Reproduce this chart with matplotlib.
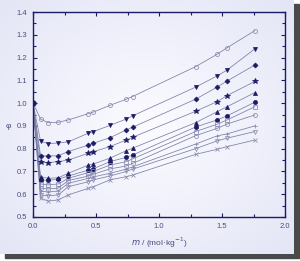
import numpy as np
import matplotlib
matplotlib.use("Agg")
import matplotlib.pyplot as plt
from matplotlib.patches import Rectangle

plt.rcParams['font.family'] = ['Liberation Sans', 'DejaVu Sans']

# molality (mol/kg) of the measured points, same for every series
m = [0.06, 0.12, 0.20, 0.28, 0.44, 0.48, 0.61, 0.74, 0.79, 1.29, 1.46, 1.54, 1.76]
m0, phi0 = 0.0, 1.0   # limiting value, all curves start here

phi_open_circle = [0.930, 0.914, 0.916, 0.926, 0.954, 0.961, 0.990, 1.017, 1.029, 1.160, 1.214, 1.243, 1.318]
phi_tri_down = [0.833, 0.822, 0.825, 0.830, 0.868, 0.875, 0.902, 0.930, 0.944, 1.070, 1.119, 1.145, 1.238]
phi_diamond = [0.769, 0.768, 0.769, 0.787, 0.816, 0.824, 0.848, 0.882, 0.894, 1.017, 1.070, 1.097, 1.167]
phi_star = [0.740, 0.739, 0.743, 0.750, 0.780, 0.787, 0.809, 0.838, 0.850, 0.964, 1.006, 1.033, 1.095]
phi_tri_up = [0.676, 0.670, 0.672, 0.692, 0.728, 0.733, 0.758, 0.791, 0.802, 0.914, 0.962, 0.984, 1.046]
phi_fill_circle = [0.663, 0.661, 0.666, 0.680, 0.706, 0.712, 0.743, 0.762, 0.772, 0.895, 0.926, 0.944, 1.004]
phi_square = [0.645, 0.641, 0.645, 0.670, 0.695, 0.700, 0.728, 0.743, 0.755, 0.875, 0.907, 0.926, 0.984]
phi_open_circle2 = [0.627, 0.623, 0.627, 0.660, 0.680, 0.688, 0.711, 0.724, 0.735, 0.857, 0.889, 0.908, 0.948]
phi_plus = [0.614, 0.610, 0.614, 0.648, 0.670, 0.676, 0.692, 0.710, 0.720, 0.820, 0.856, 0.865, 0.900]
phi_open_tri_down = [0.597, 0.593, 0.597, 0.633, 0.655, 0.663, 0.680, 0.700, 0.710, 0.800, 0.834, 0.846, 0.875]
phi_cross = [0.582, 0.570, 0.575, 0.597, 0.626, 0.633, 0.663, 0.677, 0.684, 0.775, 0.797, 0.809, 0.838]

navy = '#1c1c66'
grey = '#8a8cae'
line_c = '#7c7fa6'
text_c = '#4a4c80'

series = [
    (phi_open_circle, 'o', 'none', grey),
    (phi_tri_down, 'v', navy, navy),
    (phi_diamond, 'D', navy, navy),
    (phi_star, '*', navy, navy),
    (phi_tri_up, '^', navy, navy),
    (phi_fill_circle, 'o', navy, navy),
    (phi_square, 's', 'none', grey),
    (phi_open_circle2, 'o', 'none', grey),
    (phi_plus, '+', grey, grey),
    (phi_open_tri_down, 'v', 'none', grey),
    (phi_cross, 'x', grey, grey),
]

fig = plt.figure(figsize=(3.0, 2.61), dpi=100)
fig.patch.set_facecolor('white')

# card with drop shadow and soft lavender gradient
fig.add_artist(Rectangle((0.017, 0.0115), 0.98, 0.975, transform=fig.transFigure,
                         color='#4a4a4a', zorder=-3))
bg = fig.add_axes([0.0, 0.027, 0.98, 0.973], zorder=-2)
yy, xx = np.mgrid[-1:1:120j, -1:1:140j]
grad = np.clip(np.sqrt(xx**2 + yy**2) / 1.4, 0, 1)
bg.imshow(grad, cmap=matplotlib.colors.LinearSegmentedColormap.from_list(
    'card', ['#fbfbff', '#e4e6f6']), aspect='auto', extent=(0, 1, 0, 1))
bg.set_axis_off()

ax = fig.add_axes([0.11, 0.1686, 0.84, 0.7854])
ax.set_facecolor('none')

for phi, mk, fc, ec in series:
    ax.plot([m0] + m, [phi0] + phi, '-', color=line_c, lw=0.55, zorder=2)
    ms = 4.0 if mk == '*' else 2.9
    if mk == 'D':
        ms = 2.5
    ax.plot(m, phi, linestyle='none', marker=mk, ms=ms, mfc=fc, mec=ec, mew=0.55, zorder=3)
ax.plot([m0], [phi0], 'o', ms=3.5, color=navy, zorder=4)

ax.set_xlim(0, 2.0)
ax.set_ylim(0.5, 1.4)
ax.set_xticks(np.arange(0, 2.01, 0.5))
ax.set_xticks(np.arange(0, 2.01, 0.25), minor=True)
ax.set_yticks(np.arange(0.5, 1.41, 0.1))
ax.set_yticks(np.arange(0.5, 1.41, 0.05), minor=True)
ax.set_xticklabels(['0.0', '0.5', '1.0', '1.5', '2.0'])
ax.set_yticklabels(['%.1f' % v for v in np.arange(0.5, 1.41, 0.1)])
ax.tick_params(which='both', direction='in', top=True, right=True, colors=navy,
               labelcolor=text_c, labelsize=5.5, width=0.8)
ax.tick_params(which='major', length=3, pad=4)
ax.tick_params(which='minor', length=2)
for s in ax.spines.values():
    s.set_color(navy)
    s.set_linewidth(1.0)

fig.text(0.027, 0.517, 'φ', fontsize=6, color=text_c, ha='center', va='center')
ax.set_xlabel(r'$m$ / (mol·kg$^{-1}$)', fontsize=6, color=text_c, labelpad=4)

fig.savefig('out.png', dpi=100)
